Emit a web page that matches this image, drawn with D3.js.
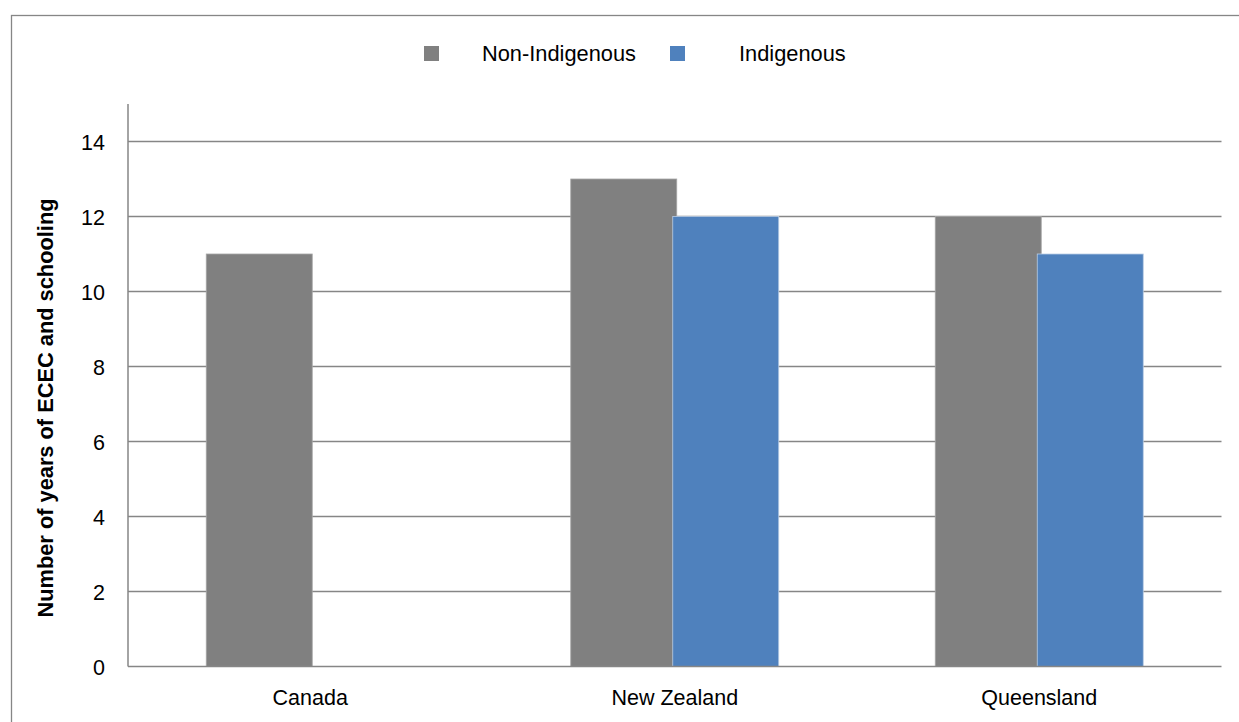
<!DOCTYPE html>
<html>
<head>
<meta charset="utf-8">
<script src="https://cdn.jsdelivr.net/npm/d3@7"></script>
<style>
  html, body { margin: 0; padding: 0; background: #fff; }
  svg { display: block; }
  text { font-family: "Liberation Sans", Arial, sans-serif; fill: #000; }
</style>
</head>
<body>
<svg id="chart" width="1239" height="722"></svg>
<script>
const categories = ["Canada", "New Zealand", "Queensland"];
const seriesNames = ["Non-Indigenous", "Indigenous"];
const nonIndigenous = [11, 13, 12];
const indigenous = [null, 12, 11];
const yTicks = [0, 2, 4, 6, 8, 10, 12, 14];
const yTitle = "Number of years of ECEC and schooling";
const colors = ["#808080", "#4F81BD"];

const seriesValues = [nonIndigenous, indigenous];

const svg = d3.select("#chart");
const W = 1239, H = 722;
const plot = { left: 128, right: 1221.5, top: 104, bottom: 666.5 };
const gridColor = "#868686";

// outer frame (extends past right/bottom edges as in reference)
svg.append("rect")
  .attr("x", 11.5).attr("y", 15.5)
  .attr("width", W + 20).attr("height", H + 20)
  .attr("fill", "#fff").attr("stroke", gridColor).attr("stroke-width", 1.3);

const y = d3.scaleLinear().domain([0, 15]).range([plot.bottom, plot.top]);
const x0 = d3.scaleBand().domain(categories).range([plot.left, plot.right]).paddingInner(0).paddingOuter(0);
const groupW = 204;
const x1 = d3.scaleBand().domain(seriesNames).range([0, groupW]);
const barW = x1.bandwidth() + 4;

// gridlines
svg.append("g").selectAll("line").data(yTicks.filter(d => d > 0)).join("line")
  .attr("x1", plot.left).attr("x2", plot.right)
  .attr("y1", d => y(d)).attr("y2", d => y(d))
  .attr("stroke", gridColor).attr("stroke-width", 1.3);

// bars
seriesNames.forEach((s, si) => {
  const data = categories.map((c, i) => ({ c, v: seriesValues[si][i] })).filter(d => d.v != null);
  svg.append("g").selectAll("rect").data(data).join("rect")
    .attr("x", d => x0(d.c) + (x0.bandwidth() - groupW) / 2 + x1(s) - 2)
    .attr("y", d => y(d.v))
    .attr("width", barW)
    .attr("height", d => y(0) - y(d.v))
    .attr("fill", colors[si])
    .attr("stroke", si === 0 ? "#a6a6a6" : "#b9cde5")
    .attr("stroke-width", 0.8);
});

// y axis
const yAxis = d3.axisLeft(y).tickValues(yTicks).tickSize(0).tickPadding(23).tickFormat(d3.format("d"));
const gy = svg.append("g").attr("transform", `translate(${plot.left},0)`).call(yAxis);
gy.select(".domain").remove();
gy.selectAll("text").style("font-size", "21.5px").attr("font-family", null).attr("dy", "0.36em");
svg.append("line").attr("x1", plot.left).attr("x2", plot.left)
  .attr("y1", plot.top).attr("y2", plot.bottom)
  .attr("stroke", gridColor).attr("stroke-width", 1.5);

// x axis
const xAxis = d3.axisBottom(x0).tickSize(0).tickPadding(0);
const gx = svg.append("g").attr("transform", `translate(0,${plot.bottom})`).call(xAxis);
gx.select(".domain").remove();
gx.selectAll("text").style("font-size", "21.5px").attr("font-family", null).attr("dy", null).attr("y", 38);
svg.append("line").attr("x1", plot.left).attr("x2", plot.right)
  .attr("y1", plot.bottom).attr("y2", plot.bottom)
  .attr("stroke", gridColor).attr("stroke-width", 1.5);

// y title
svg.append("text")
  .attr("transform", "translate(53,408) rotate(-90)")
  .attr("text-anchor", "middle")
  .style("font-size", "21.8px").style("font-weight", "bold")
  .text(yTitle);

// legend
const legendX = [424, 670];
const legendTextX = [482, 739];
const lg = svg.append("g");
seriesNames.forEach((s, i) => {
  lg.append("rect").attr("x", legendX[i]).attr("y", 46).attr("width", 15).attr("height", 15).attr("fill", colors[i]);
  lg.append("text").attr("x", legendTextX[i]).attr("y", 61).style("font-size", "21.8px").text(s);
});
</script>
</body>
</html>
